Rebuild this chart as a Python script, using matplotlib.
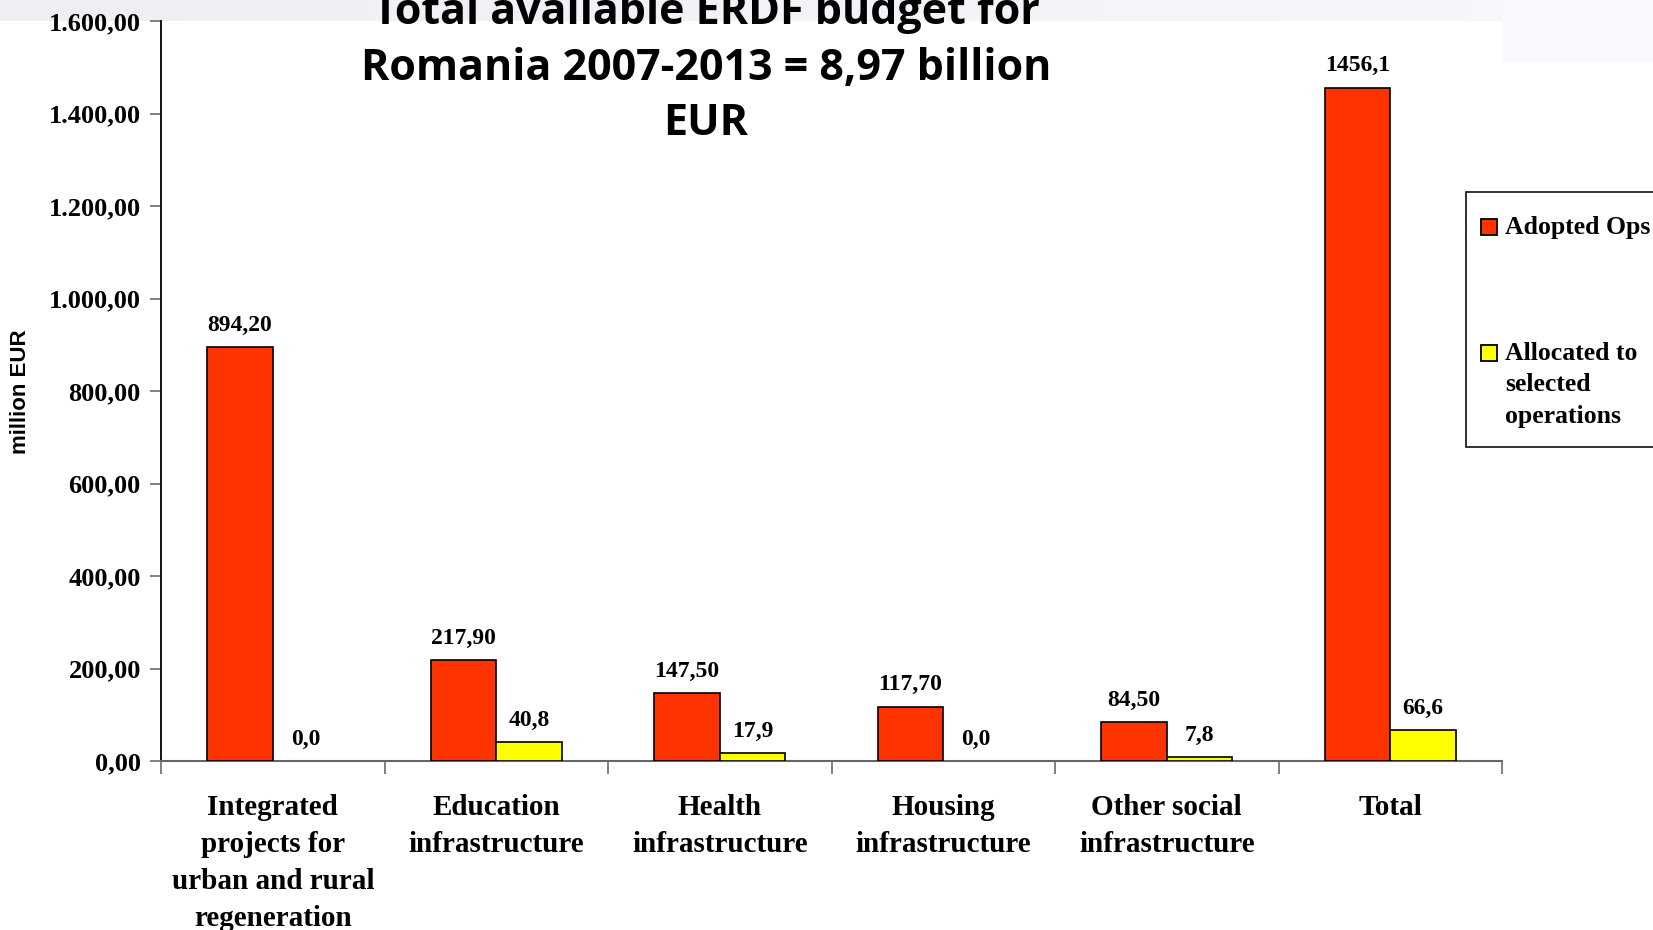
import matplotlib
matplotlib.use("Agg")
import matplotlib.pyplot as plt
from matplotlib.ticker import FuncFormatter
from matplotlib.patches import Rectangle
import numpy as np

# data (million EUR)
categories = ["Integrated\nprojects for\nurban and rural\nregeneration",
              "Education\ninfrastructure", "Health\ninfrastructure",
              "Housing\ninfrastructure", "Other social\ninfrastructure", "Total"]
adopted = [894.20, 217.90, 147.50, 117.70, 84.50, 1456.1]
allocated = [0.0, 40.8, 17.9, 0.0, 7.8, 66.6]
adopted_labels = ["894,20", "217,90", "147,50", "117,70", "84,50", "1456,1"]
allocated_labels = ["0,0", "40,8", "17,9", "0,0", "7,8", "66,6"]
series_names = ["Adopted Ops", "Allocated to\nselected\noperations"]
y_ticks = [0, 200, 400, 600, 800, 1000, 1200, 1400, 1600]

title = "Total available ERDF budget for\nRomania 2007-2013 = 8,97 billion\nEUR"

RED = "#FF3300"
YELLOW = "#FFFF00"
serif = "Liberation Serif"

W, H = 1653, 930
fig = plt.figure(figsize=(W / 100, H / 100), dpi=100)
fig.patch.set_facecolor("white")

# light slide background showing round the chart picture
bg = fig.add_axes([0, 0, 1, 1], zorder=-10)
bg.set_xlim(0, W)
bg.set_ylim(H, 0)
bg.axis("off")
grad = np.linspace(0, 1, 256).reshape(1, -1)
bg.imshow(grad, cmap=matplotlib.colors.LinearSegmentedColormap.from_list("g", ["#edeff3", "#f7f8fb"]),
          extent=[0, W, 21, 0], aspect="auto")
bg.add_patch(Rectangle((1502, 0), W - 1502, 62, color="#f8f9fc", lw=0))

ax = fig.add_axes([161 / W, 1 - 761 / H, (1502 - 161) / W, (761 - 21) / H])
ax.set_facecolor("none")

x = np.arange(len(categories))
w = 0.293
ax.bar(x - w / 2, adopted, w, color=RED, edgecolor="black",
       linewidth=[1.2 if v else 0 for v in adopted], zorder=3)
ax.bar(x + w / 2, allocated, w, color=YELLOW, edgecolor="black",
       linewidth=[1.2 if v else 0 for v in allocated], zorder=3)

for xi, v, s in zip(x - w / 2, adopted, adopted_labels):
    ax.annotate(s, (xi, v), xytext=(0, 8), textcoords="offset points", ha="center", va="bottom",
                fontsize=17, fontweight="bold", family=serif)
for xi, v, s in zip(x + w / 2, allocated, allocated_labels):
    ax.annotate(s, (xi, v), xytext=(0, 8), textcoords="offset points", ha="center", va="bottom",
                fontsize=17, fontweight="bold", family=serif)

ax.set_xlim(-0.5, len(categories) - 0.5)
ax.set_ylim(0, 1600)
ax.set_yticks(y_ticks)
ax.yaxis.set_major_formatter(FuncFormatter(
    lambda v, p: f"{v:,.2f}".replace(",", "X").replace(".", ",").replace("X", ".")))
ax.tick_params(axis="y", length=8, width=1.3, color="#777777", pad=6.5, labelsize=19)
for lab in ax.get_yticklabels():
    lab.set_fontweight("bold")
    lab.set_family(serif)

ax.set_xticks(np.arange(-0.5, len(categories), 1.0))
ax.set_xticklabels([])
ax.tick_params(axis="x", which="major", length=9, width=1.3, color="#777777")
ax.set_xticks(x, minor=True)
ax.set_xticklabels(categories, minor=True, fontsize=21, fontweight="bold", family=serif,
                   linespacing=1.47)
ax.tick_params(axis="x", which="minor", length=0, pad=24)

for side in ["top", "right"]:
    ax.spines[side].set_visible(False)
ax.spines["left"].set_color("black")
ax.spines["left"].set_linewidth(1.3)
ax.spines["bottom"].set_color("#666666")
ax.spines["bottom"].set_linewidth(1.5)

fig.text(21 / W, 1 - 392 / H, "million EUR", rotation=90, ha="center", va="center",
         fontsize=16, fontweight="bold", family="Liberation Sans")

fig.text(706 / W, 1 - 68 / H, title, ha="center", va="center", fontsize=31,
         fontweight="bold", family="Open Sans", linespacing=1.37)

# legend box, cut by the right edge like in the original
leg = fig.add_axes([0, 0, 1, 1], zorder=5)
leg.set_xlim(0, W)
leg.set_ylim(H, 0)
leg.axis("off")
leg.add_patch(Rectangle((1466, 192), 250, 255, facecolor="white", edgecolor="#222222", lw=1.3))
colors = [RED, YELLOW]
tops = [227, 353]
for c, t, name in zip(colors, tops, series_names):
    leg.add_patch(Rectangle((1481, t - 8), 16, 16, facecolor=c, edgecolor="black", lw=1.3))
    for k, line in enumerate(name.split("\n")):
        leg.text(1505, t + k * 31.5, line, ha="left", va="center", fontsize=18.5,
                 fontweight="bold", family=serif)

fig.savefig("out.png", dpi=100)
